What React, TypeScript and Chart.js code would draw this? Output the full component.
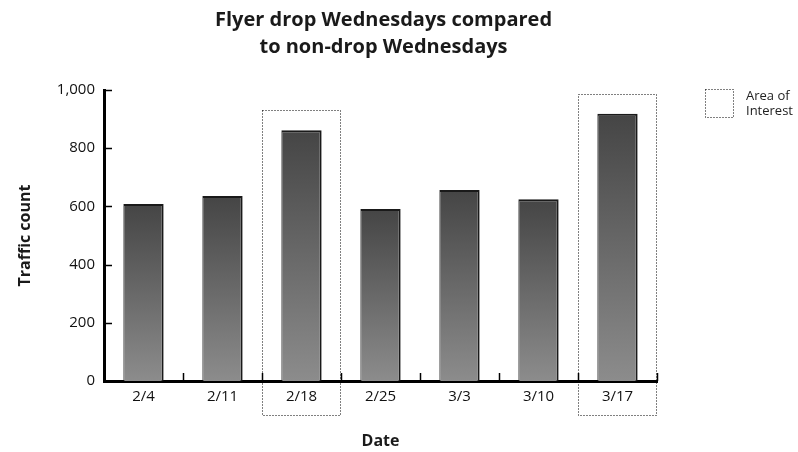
import React, { useEffect, useRef } from "react";
import { Chart, registerables } from "chart.js";

Chart.register(...registerables);

const categories = ["2/4", "2/11", "2/18", "2/25", "3/3", "3/10", "3/17"];
const trafficCounts = [608, 636, 862, 591, 656, 625, 918];
const highlighted = [2, 6];
const titleLines = ["Flyer drop Wednesdays compared", "to non-drop Wednesdays"];
const yTitle = "Traffic count";
const xTitle = "Date";
const legendLines = ["Area of", "Interest"];

const FONT = "'Open Sans', 'DejaVu Sans', sans-serif";

const overlayPlugin = {
  id: "overlay",
  afterDraw(chart: any) {
    const { ctx, chartArea, scales } = chart;
    const x = scales.x;
    const y = scales.y;
    const cx = (chartArea.left + chartArea.right) / 2;
    ctx.save();
    // Title
    ctx.fillStyle = "#1a1a1a";
    ctx.textAlign = "center";
    ctx.textBaseline = "middle";
    ctx.font = `bold 20px ${FONT}`;
    titleLines.forEach((l, i) => ctx.fillText(l, cx + 3, 20 + i * 27));
    // Axis titles
    ctx.font = `bold 16px ${FONT}`;
    ctx.fillText(xTitle, cx, 441);
    ctx.save();
    ctx.translate(25, (chartArea.top + chartArea.bottom) / 2);
    ctx.rotate(-Math.PI / 2);
    ctx.fillText(yTitle, 0, 0);
    ctx.restore();
    // Inward tick marks
    ctx.strokeStyle = "#000";
    ctx.lineWidth = 1.5;
    y.ticks.forEach((t: any) => {
      const py = Math.round(y.getPixelForValue(t.value)) + 0.5;
      if (t.value === 0) return;
      ctx.beginPath();
      ctx.moveTo(chartArea.left, py);
      ctx.lineTo(chartArea.left + 8, py);
      ctx.stroke();
    });
    const step = x.getPixelForValue(1) - x.getPixelForValue(0);
    for (let i = 1; i <= categories.length; i++) {
      const px = Math.round(x.getPixelForValue(i - 1) + step / 2) + 0.5;
      ctx.beginPath();
      ctx.moveTo(px, chartArea.bottom);
      ctx.lineTo(px, chartArea.bottom - 8);
      ctx.stroke();
    }
    // Highlight boxes
    ctx.strokeStyle = "#000";
    ctx.lineWidth = 1;
    ctx.setLineDash([1, 2]);
    highlighted.forEach((i) => {
      const c = x.getPixelForValue(i);
      const l = Math.round(c - step / 2) + 0.5;
      const r = Math.round(c + step / 2) - 0.5;
      const top = Math.round(y.getPixelForValue(trafficCounts[i])) - 19.5;
      const bottom = chartArea.bottom + 34.5;
      ctx.strokeRect(l, top, r - l, bottom - top);
    });
    // Legend
    ctx.strokeRect(705.5, 89.5, 28, 28);
    ctx.setLineDash([]);
    ctx.fillStyle = "#222";
    ctx.textAlign = "left";
    ctx.font = `13px ${FONT}`;
    legendLines.forEach((l, i) => ctx.fillText(l, 746, 96 + i * 15));
    ctx.restore();
  },
};

export default function App() {
  const ref = useRef<HTMLCanvasElement>(null);
  useEffect(() => {
    if (!ref.current) return;
    const chart = new Chart(ref.current, {
      type: "bar",
      data: {
        labels: categories,
        datasets: [
          {
            data: trafficCounts,
            backgroundColor: (c: any) => {
              const ch = c.chart;
              if (!ch.chartArea || c.raw == null) return "#666";
              const top = ch.scales.y.getPixelForValue(c.raw);
              const bottom = ch.scales.y.getPixelForValue(0);
              const g = ch.ctx.createLinearGradient(0, top, 0, bottom);
              g.addColorStop(0, "#454545");
              g.addColorStop(1, "#8c8c8c");
              return g;
            },
            borderColor: "#1a1a1a",
            borderWidth: { top: 2, right: 2, left: 1, bottom: 0 },
            borderSkipped: false,
            barPercentage: 0.51,
            categoryPercentage: 1,
          },
        ],
      },
      options: {
        animation: false,
        responsive: true,
        maintainAspectRatio: false,
        layout: { padding: { top: 90, left: 44, right: 141, bottom: 31 } },
        plugins: { legend: { display: false }, title: { display: false }, tooltip: { enabled: false } },
        scales: {
          x: {
            grid: { display: false, drawTicks: false },
            border: { display: true, color: "#000", width: 3 },
            ticks: { color: "#111", font: { family: FONT, size: 15 }, padding: 7 },
            afterFit: (s: any) => { s.height = 40; },
          },
          y: {
            min: 0,
            max: 1000,
            grid: { display: false, drawTicks: false },
            border: { display: true, color: "#000", width: 3 },
            ticks: { stepSize: 200, color: "#111", font: { family: FONT, size: 15 }, padding: 9 },
            afterFit: (s: any) => { s.width = 60; },
          },
        },
      },
      plugins: [overlayPlugin],
    });
    return () => chart.destroy();
  }, []);
  return (
    <div style={{ position: "fixed", left: 0, top: 0, width: 798, height: 452, background: "#fff" }}>
      <canvas ref={ref} />
    </div>
  );
}
